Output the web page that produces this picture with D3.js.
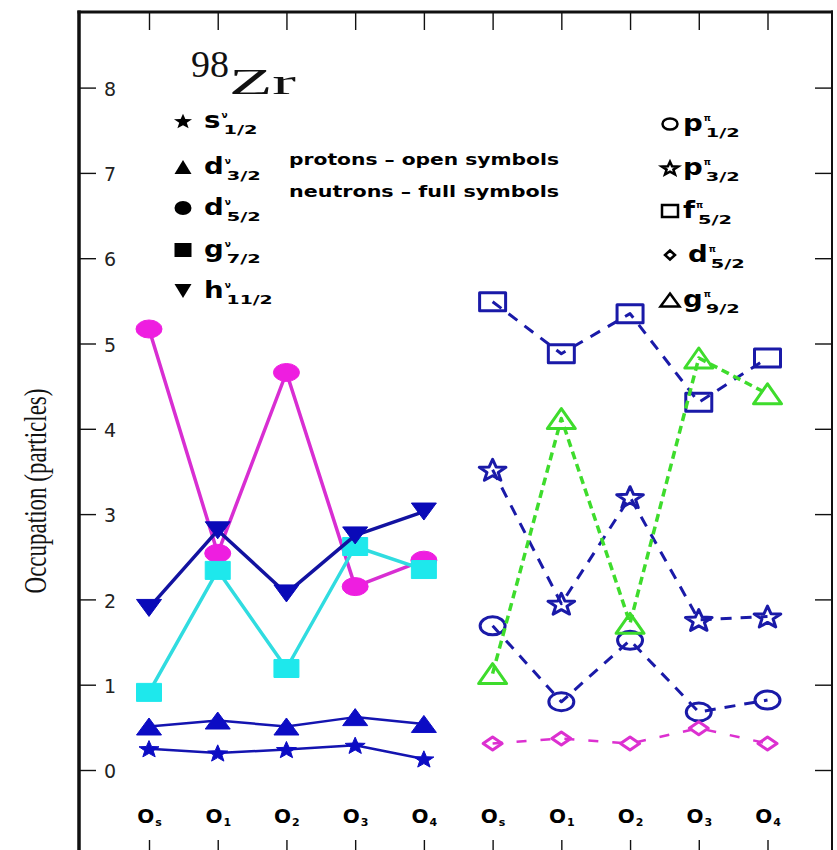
<!DOCTYPE html>
<html>
<head>
<meta charset="utf-8">
<script src="https://cdn.jsdelivr.net/npm/d3@7"></script>
<style>
  html, body { margin: 0; padding: 0; background: #fff; }
  svg { display: block; }
</style>
</head>
<body>
<script>
// Orbital occupations in 98Zr for the ground state (s) and excited states 1-4.
const xSubs = ["s", "1", "2", "3", "4", "s", "1", "2", "3", "4"];
const neutronPos = [0, 1, 2, 3, 4];
const protonPos = [5, 6, 7, 8, 9];
const yTicks = [0, 1, 2, 3, 4, 5, 6, 7, 8];

// neutrons (full symbols)
const nuS12  = [0.25, 0.20, 0.24, 0.29, 0.13];
const nuD32  = [0.51, 0.58, 0.51, 0.62, 0.54];
const nuD52  = [5.17, 2.54, 4.66, 2.15, 2.46];
const nuG72  = [0.91, 2.34, 1.19, 2.62, 2.35];
const nuH112 = [1.90, 2.81, 2.07, 2.75, 3.03];

// protons (open symbols)
const piP12 = [1.69, 0.80, 1.52, 0.68, 0.82];
const piP32 = [3.52, 1.95, 3.20, 1.76, 1.80];
const piF52 = [5.49, 4.88, 5.35, 4.31, 4.83];
const piD52 = [0.31, 0.37, 0.31, 0.49, 0.31];
const piG92 = [1.13, 4.12, 1.72, 4.83, 4.41];

const W = 837, H = 850;
const frame = { left: 79, right: 832, top: 12 };

const svg = d3.select("body").append("svg").attr("width", W).attr("height", H);

const x = d3.scalePoint().domain(d3.range(10)).range([149, 767.5]);
const y = d3.scaleLinear().domain([0, 8]).range([770, 87.6]);

// ---- marker shapes (centered, width w, height h) ----
function shapePath(shape, w, h) {
  const a = w / 2, b = h / 2;
  switch (shape) {
    case "circle":
      return `M${-a},0A${a},${b} 0 1,0 ${a},0A${a},${b} 0 1,0 ${-a},0Z`;
    case "square":
      return `M${-a},${-b}H${a}V${b}H${-a}Z`;
    case "triUp":
      return `M0,${-b}L${a},${b}L${-a},${b}Z`;
    case "triDown":
      return `M${-a},${-b}L${a},${-b}L0,${b}Z`;
    case "diamond":
      return `M0,${-b}L${a},0L0,${b}L${-a},0Z`;
    case "star": {
      const pts = [];
      for (let i = 0; i < 10; i++) {
        const ang = -Math.PI / 2 + i * Math.PI / 5;
        const r = i % 2 === 0 ? 1 : 0.42;
        pts.push([a * r * Math.cos(ang), b * r * Math.sin(ang) + b * 0.1]);
      }
      return "M" + pts.map(p => p[0].toFixed(2) + "," + p[1].toFixed(2)).join("L") + "Z";
    }
  }
}

// ---- frame and axes ----
const axesG = svg.append("g").attr("class", "axes");

const leftAxis = axesG.append("g")
  .attr("transform", `translate(${frame.left},0)`)
  .call(d3.axisRight(y).tickValues(yTicks).tickSize(17).tickPadding(8).tickFormat(d3.format("d")));
leftAxis.select(".domain").remove();
leftAxis.selectAll("line").attr("stroke", "#111").attr("stroke-width", 1.4);
leftAxis.selectAll("text")
  .attr("font-family", "DejaVu Sans, sans-serif")
  .attr("font-size", 19)
  .attr("fill", "#222")
  .attr("dy", "0.4em");

const rightAxis = axesG.append("g")
  .attr("transform", `translate(${frame.right},0)`)
  .call(d3.axisLeft(y).tickValues(yTicks).tickSize(17).tickFormat(""));
rightAxis.select(".domain").remove();
rightAxis.selectAll("line").attr("stroke", "#111").attr("stroke-width", 1.4);

const topAxis = axesG.append("g")
  .attr("transform", `translate(0,${frame.top})`)
  .call(d3.axisBottom(x).tickSize(18).tickFormat(""));
topAxis.select(".domain").remove();
topAxis.selectAll("line").attr("stroke", "#111").attr("stroke-width", 1.4);

const bottomAxis = axesG.append("g")
  .attr("transform", `translate(0,858)`)
  .call(d3.axisTop(x).tickSize(18).tickPadding(17).tickFormat(""));
bottomAxis.select(".domain").remove();
bottomAxis.selectAll("line").attr("stroke", "#111").attr("stroke-width", 1.4);
bottomAxis.selectAll(".tick text")
  .attr("font-family", "DejaVu Sans, sans-serif")
  .attr("font-weight", "bold")
  .attr("fill", "#000")
  .each(function (d) {
    const t = d3.select(this).attr("text-anchor", "middle");
    t.append("tspan").attr("font-size", 20).text("O");
    t.append("tspan").attr("font-size", 11).attr("dy", 3).attr("dx", 1).text(xSubs[d]);
  });

// frame: top and right edges, heavier left edge
const frameG = svg.append("g").attr("fill", "#111");
frameG.append("rect")
  .attr("x", frame.left - 1.5).attr("y", frame.top - 1.5)
  .attr("width", frame.right - frame.left + 2.5).attr("height", 3);
frameG.append("rect")
  .attr("x", frame.right - 1).attr("y", frame.top - 1.5)
  .attr("width", 2).attr("height", H - frame.top + 2);
frameG.append("rect")
  .attr("x", frame.left - 1.75).attr("y", frame.top - 1.5)
  .attr("width", 3.5).attr("height", H - frame.top + 2);

// y-axis title
svg.append("text")
  .attr("transform", "translate(46,491) scale(1.35,1) rotate(-90)")
  .attr("text-anchor", "middle")
  .attr("font-family", "Liberation Serif, Times New Roman, serif")
  .attr("font-size", 23)
  .attr("fill", "#111")
  .text("Occupation (particles)");

// ---- series ----
const line = d3.line().x(d => x(d.i)).y(d => y(d.v));

function drawSeries(cfg) {
  const pts = cfg.values.map((v, k) => ({ i: cfg.pos[k], v }));
  const g = svg.append("g").attr("class", "series");
  g.append("path")
    .datum(pts)
    .attr("d", line)
    .attr("fill", "none")
    .attr("stroke", cfg.lineColor || cfg.color)
    .attr("stroke-width", cfg.lineWidth)
    .attr("stroke-dasharray", cfg.dash || null)
    .attr("stroke-linejoin", "round");
  g.selectAll("path.mark")
    .data(pts)
    .join("path")
    .attr("class", "mark")
    .attr("transform", d => `translate(${x(d.i)},${y(d.v)})`)
    .attr("d", shapePath(cfg.shape, cfg.w, cfg.h))
    .attr("fill", cfg.open ? "none" : cfg.color)
    .attr("stroke", cfg.color)
    .attr("stroke-width", cfg.open ? 3 : 1)
    .attr("stroke-linejoin", "round");
}

// neutrons: solid lines, full symbols
drawSeries({ values: nuD52, pos: neutronPos, color: "#ee1ee0", lineColor: "#d82ed2", lineWidth: 3.5, shape: "circle", w: 26, h: 18 });
drawSeries({ values: nuG72, pos: neutronPos, color: "#1ee8ec", lineColor: "#30dce0", lineWidth: 3.5, shape: "square", w: 25, h: 18 });
drawSeries({ values: nuH112, pos: neutronPos, color: "#0a0ab8", lineColor: "#1212a0", lineWidth: 3.5, shape: "triDown", w: 25, h: 17 });
drawSeries({ values: nuD32, pos: neutronPos, color: "#0c0cc4", lineColor: "#1414b0", lineWidth: 2.5, shape: "triUp", w: 25, h: 17 });
drawSeries({ values: nuS12, pos: neutronPos, color: "#0c0cc4", lineColor: "#1414b0", lineWidth: 2.5, shape: "star", w: 21, h: 18 });

// protons: dashed lines, open symbols
drawSeries({ values: piP12, pos: protonPos, color: "#1a1aa8", lineWidth: 3, dash: "11,9", shape: "circle", w: 25, h: 18, open: true });
drawSeries({ values: piP32, pos: protonPos, color: "#1a1aa8", lineWidth: 3, dash: "11,9", shape: "star", w: 28, h: 23, open: true });
drawSeries({ values: piF52, pos: protonPos, color: "#1a1aa8", lineWidth: 3, dash: "11,9", shape: "square", w: 26, h: 18, open: true });
drawSeries({ values: piG92, pos: protonPos, color: "#3edc2c", lineWidth: 3.5, dash: "8,5", shape: "triUp", w: 28, h: 20, open: true });
drawSeries({ values: piD52, pos: protonPos, color: "#dc30d0", lineWidth: 2.5, dash: "10,14", shape: "diamond", w: 19, h: 13, open: true });

// ---- title ----
const title = svg.append("g").attr("font-family", "Liberation Serif, Times New Roman, serif").attr("fill", "#111");
title.append("text").attr("x", 191).attr("y", 77).attr("font-size", 38).text("98");
title.append("text").attr("x", 229).attr("y", 94).attr("font-size", 36)
  .attr("textLength", 67).attr("lengthAdjust", "spacingAndGlyphs").text("Zr");

// ---- legends ----
const legLeftLetters = ["s", "d", "d", "g", "h"];
const legLeftSubs = ["1/2", "3/2", "5/2", "7/2", "11/2"];
const legLeftShapes = ["star", "triUp", "circle", "square", "triDown"];
const legRightLetters = ["p", "p", "f", "d", "g"];
const legRightSubs = ["1/2", "3/2", "5/2", "5/2", "9/2"];
const legRightShapes = ["circle", "star", "square", "diamond", "triUp"];
const legendNotes = ["protons \u2013 open symbols", "neutrons \u2013 full symbols"];

function legendLabel(g, x0, base, letter, sup, sub) {
  const t = g.append("text")
    .attr("transform", `translate(${x0},${base}) scale(1.2,1)`)
    .attr("font-family", "DejaVu Sans, sans-serif")
    .attr("font-weight", "bold")
    .attr("font-size", 23)
    .text(letter);
  const w = t.node().getComputedTextLength() * 1.2;
  g.append("text")
    .attr("x", x0 + w + 1).attr("y", base - 10)
    .attr("font-family", "DejaVu Sans, sans-serif")
    .attr("font-weight", "bold").attr("font-size", 9)
    .text(sup);
  g.append("text")
    .attr("x", x0 + w + 3).attr("y", base + 6)
    .attr("font-family", "DejaVu Sans, sans-serif")
    .attr("font-weight", "bold").attr("font-size", 13)
    .attr("textLength", sub.length > 3 ? 46 : 34)
    .attr("lengthAdjust", "spacingAndGlyphs")
    .text(sub);
}

const legL = svg.append("g").attr("fill", "#000");
const rowsL = [121, 167, 208, 250, 291];
rowsL.forEach((ry, k) => {
  const s = legLeftShapes[k];
  legL.append("path")
    .attr("transform", `translate(183,${ry})`)
    .attr("d", shapePath(s, s === "star" ? 19 : 17, s === "star" ? 16 : 14))
    .attr("fill", "#000");
  legendLabel(legL, 204, ry + 7, legLeftLetters[k], "\u03bd", legLeftSubs[k]);
});

const legR = svg.append("g").attr("fill", "#000");
const rowsR = [124, 168, 211, 255, 300];
rowsR.forEach((ry, k) => {
  const s = legRightShapes[k];
  const sz = { circle: [15, 11], star: [17, 14], square: [16, 12], diamond: [10, 9], triUp: [19, 13] }[s];
  legR.append("path")
    .attr("transform", `translate(670,${ry})`)
    .attr("d", shapePath(s, sz[0], sz[1]))
    .attr("fill", "none").attr("stroke", "#000").attr("stroke-width", 2.5);
  legendLabel(legR, legRightLetters[k] === "d" ? 688 : 683, ry + 7, legRightLetters[k], "\u03c0", legRightSubs[k]);
});

svg.append("g")
  .attr("font-family", "DejaVu Sans, sans-serif")
  .attr("font-weight", "bold")
  .attr("font-size", 16)
  .selectAll("text")
  .data(legendNotes)
  .join("text")
  .attr("x", 289)
  .attr("y", (d, k) => 165 + k * 32)
  .attr("textLength", 270)
  .attr("lengthAdjust", "spacingAndGlyphs")
  .text(d => d);
</script>
</body>
</html>
